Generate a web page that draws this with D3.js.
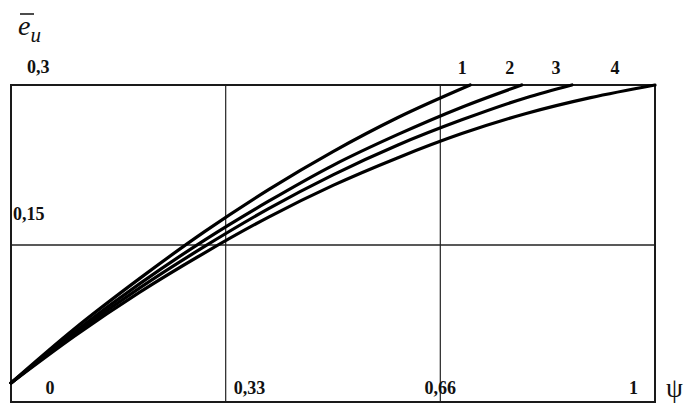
<!DOCTYPE html>
<html>
<head>
<meta charset="utf-8">
<script src="https://cdn.jsdelivr.net/npm/d3@7"></script>
<style>
  body { margin: 0; background: #fff; }
  svg { display: block; }
  text { font-family: "Liberation Serif", "DejaVu Serif", serif; fill: #111; }
</style>
</head>
<body>
<svg id="chart" width="694" height="408"></svg>
<script>
// values
const psi1 = [0, 0.1, 0.2, 0.3, 0.4, 0.5, 0.6, 0.713];
const e1   = [0.018, 0.070, 0.117, 0.161, 0.201, 0.237, 0.269, 0.300];

const psi2 = [0, 0.1, 0.2, 0.3, 0.4, 0.5, 0.6, 0.7, 0.793];
const e2   = [0.018, 0.067, 0.112, 0.153, 0.190, 0.224, 0.253, 0.279, 0.300];

const psi3 = [0, 0.1, 0.2, 0.3, 0.4, 0.5, 0.6, 0.7, 0.8, 0.871];
const e3   = [0.018, 0.065, 0.108, 0.147, 0.183, 0.215, 0.243, 0.267, 0.288, 0.300];

const psi4 = [0, 0.1, 0.2, 0.3, 0.4, 0.5, 0.6, 0.7, 0.8, 0.9, 1];
const e4   = [0.018, 0.063, 0.104, 0.141, 0.175, 0.205, 0.231, 0.254, 0.273, 0.288, 0.300];

const curveNames = ["1", "2", "3", "4"];
const xTicks = [0, 1 / 3, 2 / 3, 1];
const xTickLabels = ["0", "0,33", "0,66", "1"];
const yTicks = [0.15, 0.3];
const yTickLabels = ["0,15", "0,3"];

const series = [[psi1, e1], [psi2, e2], [psi3, e3], [psi4, e4]]
   .map(([px, ev]) => px.map((p, i) => ({ x: p, y: ev[i] })));

const svg = d3.select("#chart");

const x = d3.scaleLinear().domain([0, 1]).range([11, 655]);
const y = d3.scaleLinear().domain([0, 0.3]).range([402, 85]);

// grid
svg.append("g")
   .selectAll("line")
   .data(xTicks.slice(1, -1))
   .join("line")
   .attr("x1", d => x(d)).attr("x2", d => x(d))
   .attr("y1", y(0)).attr("y2", y(0.3))
   .attr("stroke", "#333")
   .attr("stroke-width", 1.3);

svg.append("g")
   .selectAll("line")
   .data([0.15])
   .join("line")
   .attr("x1", x(0)).attr("x2", x(1))
   .attr("y1", d => y(d) + 1.5).attr("y2", d => y(d) + 1.5)
   .attr("stroke", "#222")
   .attr("stroke-width", 1.6);

// frame
svg.append("rect")
   .attr("x", x(0)).attr("y", y(0.3))
   .attr("width", x(1) - x(0)).attr("height", y(0) - y(0.3))
   .attr("fill", "none")
   .attr("stroke", "#1a1a1a")
   .attr("stroke-width", 2);

// curves
const line = d3.line()
   .x(d => x(d.x))
   .y(d => y(d.y))
   .curve(d3.curveMonotoneX);

svg.append("g")
   .selectAll("path")
   .data(series)
   .join("path")
   .attr("d", line)
   .attr("fill", "none")
   .attr("stroke", "#000")
   .attr("stroke-width", 3.2)
   .attr("stroke-linecap", "round");

// curve numbers above the ends
svg.append("g")
   .selectAll("text")
   .data(series)
   .join("text")
   .attr("x", (d, i) => x(d[d.length - 1].x) - (i === 3 ? 40 : 8 + i * 4))
   .attr("y", 74)
   .attr("text-anchor", "middle")
   .attr("font-size", 18)
   .attr("font-weight", "bold")
   .text((d, i) => curveNames[i]);

// x tick labels (inside bottom of frame)
svg.append("g")
   .selectAll("text")
   .data(xTicks)
   .join("text")
   .attr("x", (d, i) => x(d) + [39, 8, 0, -17][i])
   .attr("y", 394)
   .attr("text-anchor", (d, i) => ["middle", "start", "middle", "end"][i])
   .attr("font-size", 18)
   .attr("font-weight", "bold")
   .text((d, i) => xTickLabels[i]);

// y tick labels (above their lines)
svg.append("g")
   .selectAll("text")
   .data(yTicks)
   .join("text")
   .attr("x", (d, i) => [13, 27][i])
   .attr("y", d => y(d) - 24 + (d === 0.3 ? 12 : 0))
   .attr("font-size", 18)
   .attr("font-weight", "bold")
   .text((d, i) => yTickLabels[i]);

// axis titles
const yt = svg.append("text")
   .attr("x", 18).attr("y", 35)
   .attr("font-size", 28)
   .attr("font-style", "italic");
yt.append("tspan").text("e");
yt.append("tspan").attr("font-size", 21).attr("dy", 7).text("u");
svg.append("line")
   .attr("x1", 20).attr("x2", 34)
   .attr("y1", 14).attr("y2", 14)
   .attr("stroke", "#111").attr("stroke-width", 1.5);

svg.append("text")
   .attr("x", 666).attr("y", 397)
   .attr("font-size", 27)
   .attr("font-family", "DejaVu Sans")
   .attr("font-weight", 200)
   .text("ψ");
</script>
</body>
</html>
